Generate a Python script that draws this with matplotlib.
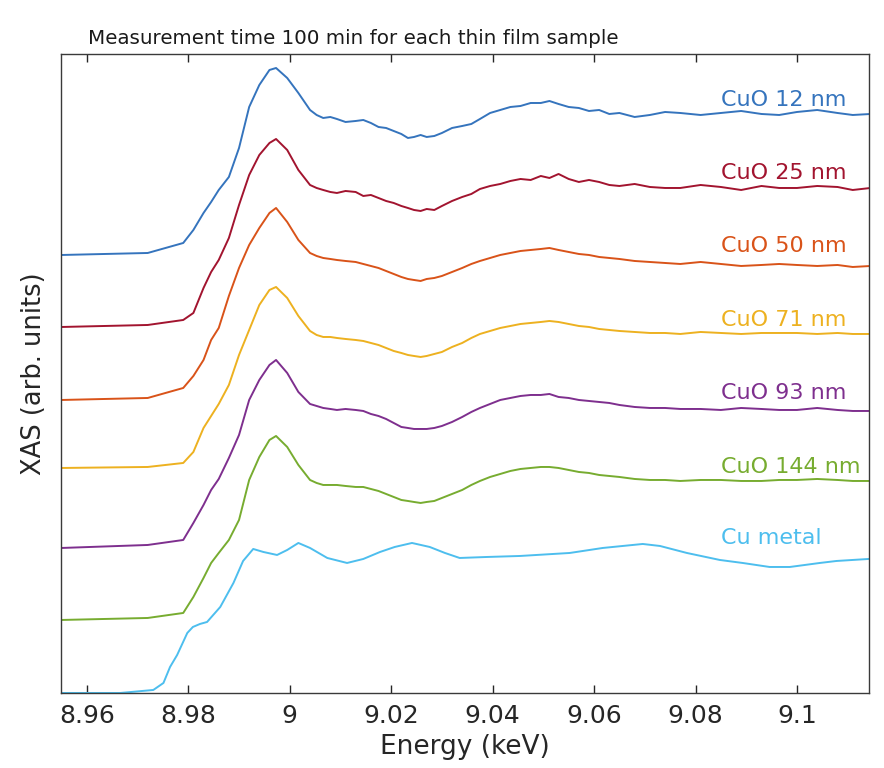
import matplotlib
matplotlib.use("Agg")
import matplotlib.pyplot as plt

# energy grid shared by the thin film spectra (keV)
energy = [8.955, 8.972, 8.979, 8.981, 8.983, 8.9845, 8.986, 8.988, 8.990, 8.992,
          8.994, 8.996, 8.9973, 8.9995, 9.0017, 9.004, 9.0053, 9.0066, 9.008, 9.0093,
          9.011, 9.013, 9.0145, 9.016, 9.0175, 9.019, 9.0205, 9.022, 9.0233, 9.0245,
          9.0258, 9.027, 9.0285, 9.030, 9.032, 9.034, 9.0358, 9.0375, 9.0395, 9.0415,
          9.0435, 9.0455, 9.0475, 9.0495, 9.0512, 9.053, 9.055, 9.057, 9.059, 9.061,
          9.063, 9.065, 9.068, 9.071, 9.074, 9.077, 9.081, 9.085, 9.089, 9.093,
          9.0965, 9.100, 9.104, 9.108, 9.111, 9.1145]

# stacked XAS (arb. units, offsets included)
cuo_12 = [438, 440, 450, 463, 480, 491, 503, 516, 545, 586, 608, 623, 625, 615, 600, 583, 578, 575, 576, 574,
          571, 572, 573, 570, 566, 565, 562, 559, 555, 556, 558, 556, 557, 560, 565, 567, 569, 574, 580, 583,
          586, 587, 590, 590, 592, 589, 586, 585, 582, 583, 579, 580, 576, 578, 581, 580, 578, 580, 582, 579,
          578, 581, 583, 580, 578, 579]
cuo_25 = [366, 368, 373, 380, 405, 421, 433, 455, 488, 518, 538, 550, 554, 543, 523, 508, 505, 503, 501, 500,
          502, 501, 497, 498, 495, 492, 490, 487, 485, 483, 482, 484, 483, 487, 492, 496, 499, 504, 507, 509,
          512, 514, 513, 517, 515, 519, 514, 511, 513, 511, 508, 507, 509, 506, 505, 505, 508, 506, 503, 507,
          505, 505, 507, 506, 503, 505]
cuo_50 = [293, 295, 305, 317, 333, 353, 365, 397, 425, 448, 465, 480, 485, 471, 453, 440, 437, 435, 434, 433,
          432, 431, 429, 427, 425, 422, 419, 416, 414, 413, 412, 414, 415, 417, 421, 425, 429, 432, 435, 438,
          440, 442, 443, 444, 445, 443, 441, 439, 438, 436, 435, 434, 432, 431, 430, 429, 431, 429, 427, 428,
          429, 428, 427, 428, 426, 427]
cuo_71 = [225, 226, 230, 241, 265, 277, 289, 308, 338, 363, 388, 403, 406, 395, 377, 362, 358, 356, 356, 355,
          354, 353, 352, 350, 348, 345, 342, 340, 338, 337, 336, 337, 339, 341, 346, 350, 355, 359, 362, 365,
          367, 369, 370, 371, 372, 371, 369, 367, 366, 364, 363, 362, 361, 360, 360, 359, 361, 360, 359, 360,
          360, 360, 359, 360, 359, 359]
cuo_93 = [145, 148, 153, 170, 188, 203, 214, 235, 258, 293, 313, 328, 333, 320, 301, 289, 287, 285, 284, 283,
          284, 283, 282, 279, 277, 274, 270, 266, 265, 264, 264, 264, 265, 267, 271, 276, 281, 285, 289, 293,
          295, 297, 298, 298, 299, 296, 295, 293, 292, 291, 290, 288, 286, 285, 285, 284, 284, 283, 285, 284,
          283, 283, 285, 283, 282, 282]
cuo_144 = [73, 75, 80, 96, 115, 130, 140, 153, 173, 213, 236, 253, 257, 246, 228, 213, 210, 208, 208, 208,
           207, 206, 206, 204, 202, 199, 196, 193, 192, 191, 190, 191, 192, 195, 199, 203, 208, 212, 216, 219,
           222, 224, 225, 226, 226, 225, 223, 221, 220, 218, 217, 216, 214, 213, 213, 212, 213, 213, 212, 212,
           213, 213, 214, 213, 212, 212]

energy_cu = [8.9551, 8.9666, 8.9731, 8.9751, 8.9764, 8.9778, 8.9798, 8.9809, 8.9823, 8.9837,
             8.9863, 8.9889, 8.9908, 8.9928, 8.9948, 8.9975, 8.9995, 9.0017, 9.0040, 9.0074,
             9.0113, 9.0145, 9.0178, 9.0207, 9.0241, 9.0276, 9.0306, 9.0335, 9.0389, 9.0454,
             9.0552, 9.0617, 9.0696, 9.0730, 9.0783, 9.0848, 9.0893, 9.0946, 9.0986, 9.1045,
             9.1078, 9.1141]
cu_metal = [0, 0, 3, 10, 26, 38, 60, 66, 69, 71, 86, 110, 132, 144, 141, 138, 143, 150, 145, 135,
            130, 134, 141, 146, 150, 146, 140, 135, 136, 137, 140, 145, 149, 147, 140, 133, 130, 126, 126, 130,
            132, 134]

labels = ["CuO 12 nm", "CuO 25 nm", "CuO 50 nm", "CuO 71 nm", "CuO 93 nm", "CuO 144 nm", "Cu metal"]
label_y = [593, 520, 447, 373, 300, 226, 155]
colors = ["#3574bd", "#a2142f", "#d95319", "#edb120", "#7e2f8e", "#77ac30", "#4dbeee"]

fig = plt.figure(figsize=(8.84, 7.68), dpi=100)
ax = fig.add_axes([0.069, 0.0977, 0.914, 0.832])

series = [cuo_12, cuo_25, cuo_50, cuo_71, cuo_93, cuo_144]
for s, c in zip(series, colors[:6]):
    ax.plot(energy, s, color=c, lw=1.4)
ax.plot(energy_cu, cu_metal, color=colors[6], lw=1.4)

for lab, yy, c in zip(labels, label_y, colors):
    ax.text(9.085, yy, lab, color=c, fontsize=16, ha="left", va="center")

ax.set_xlim(8.9549, 9.1142)
ax.set_ylim(0, 639)
ax.set_xticks([8.96, 8.98, 9.0, 9.02, 9.04, 9.06, 9.08, 9.1])
ax.set_xticklabels(["8.96", "8.98", "9", "9.02", "9.04", "9.06", "9.08", "9.1"])
ax.set_yticks([])
ax.tick_params(axis="x", direction="in", top=True, length=6, width=1, labelsize=18, colors="#262626", pad=8)
for sp in ax.spines.values():
    sp.set_color("#3a3a3a")
    sp.set_linewidth(1)

ax.set_xlabel("Energy (keV)", fontsize=19, color="#262626", labelpad=4)
ax.set_ylabel("XAS (arb. units)", fontsize=18.5, color="#262626", labelpad=10)
fig.text(88 / 884, 1 - 38 / 768, "Measurement time 100 min for each thin film sample",
         fontsize=14.3, ha="left", va="center", color="#1a1a1a")

fig.savefig("out.png", dpi=100)
